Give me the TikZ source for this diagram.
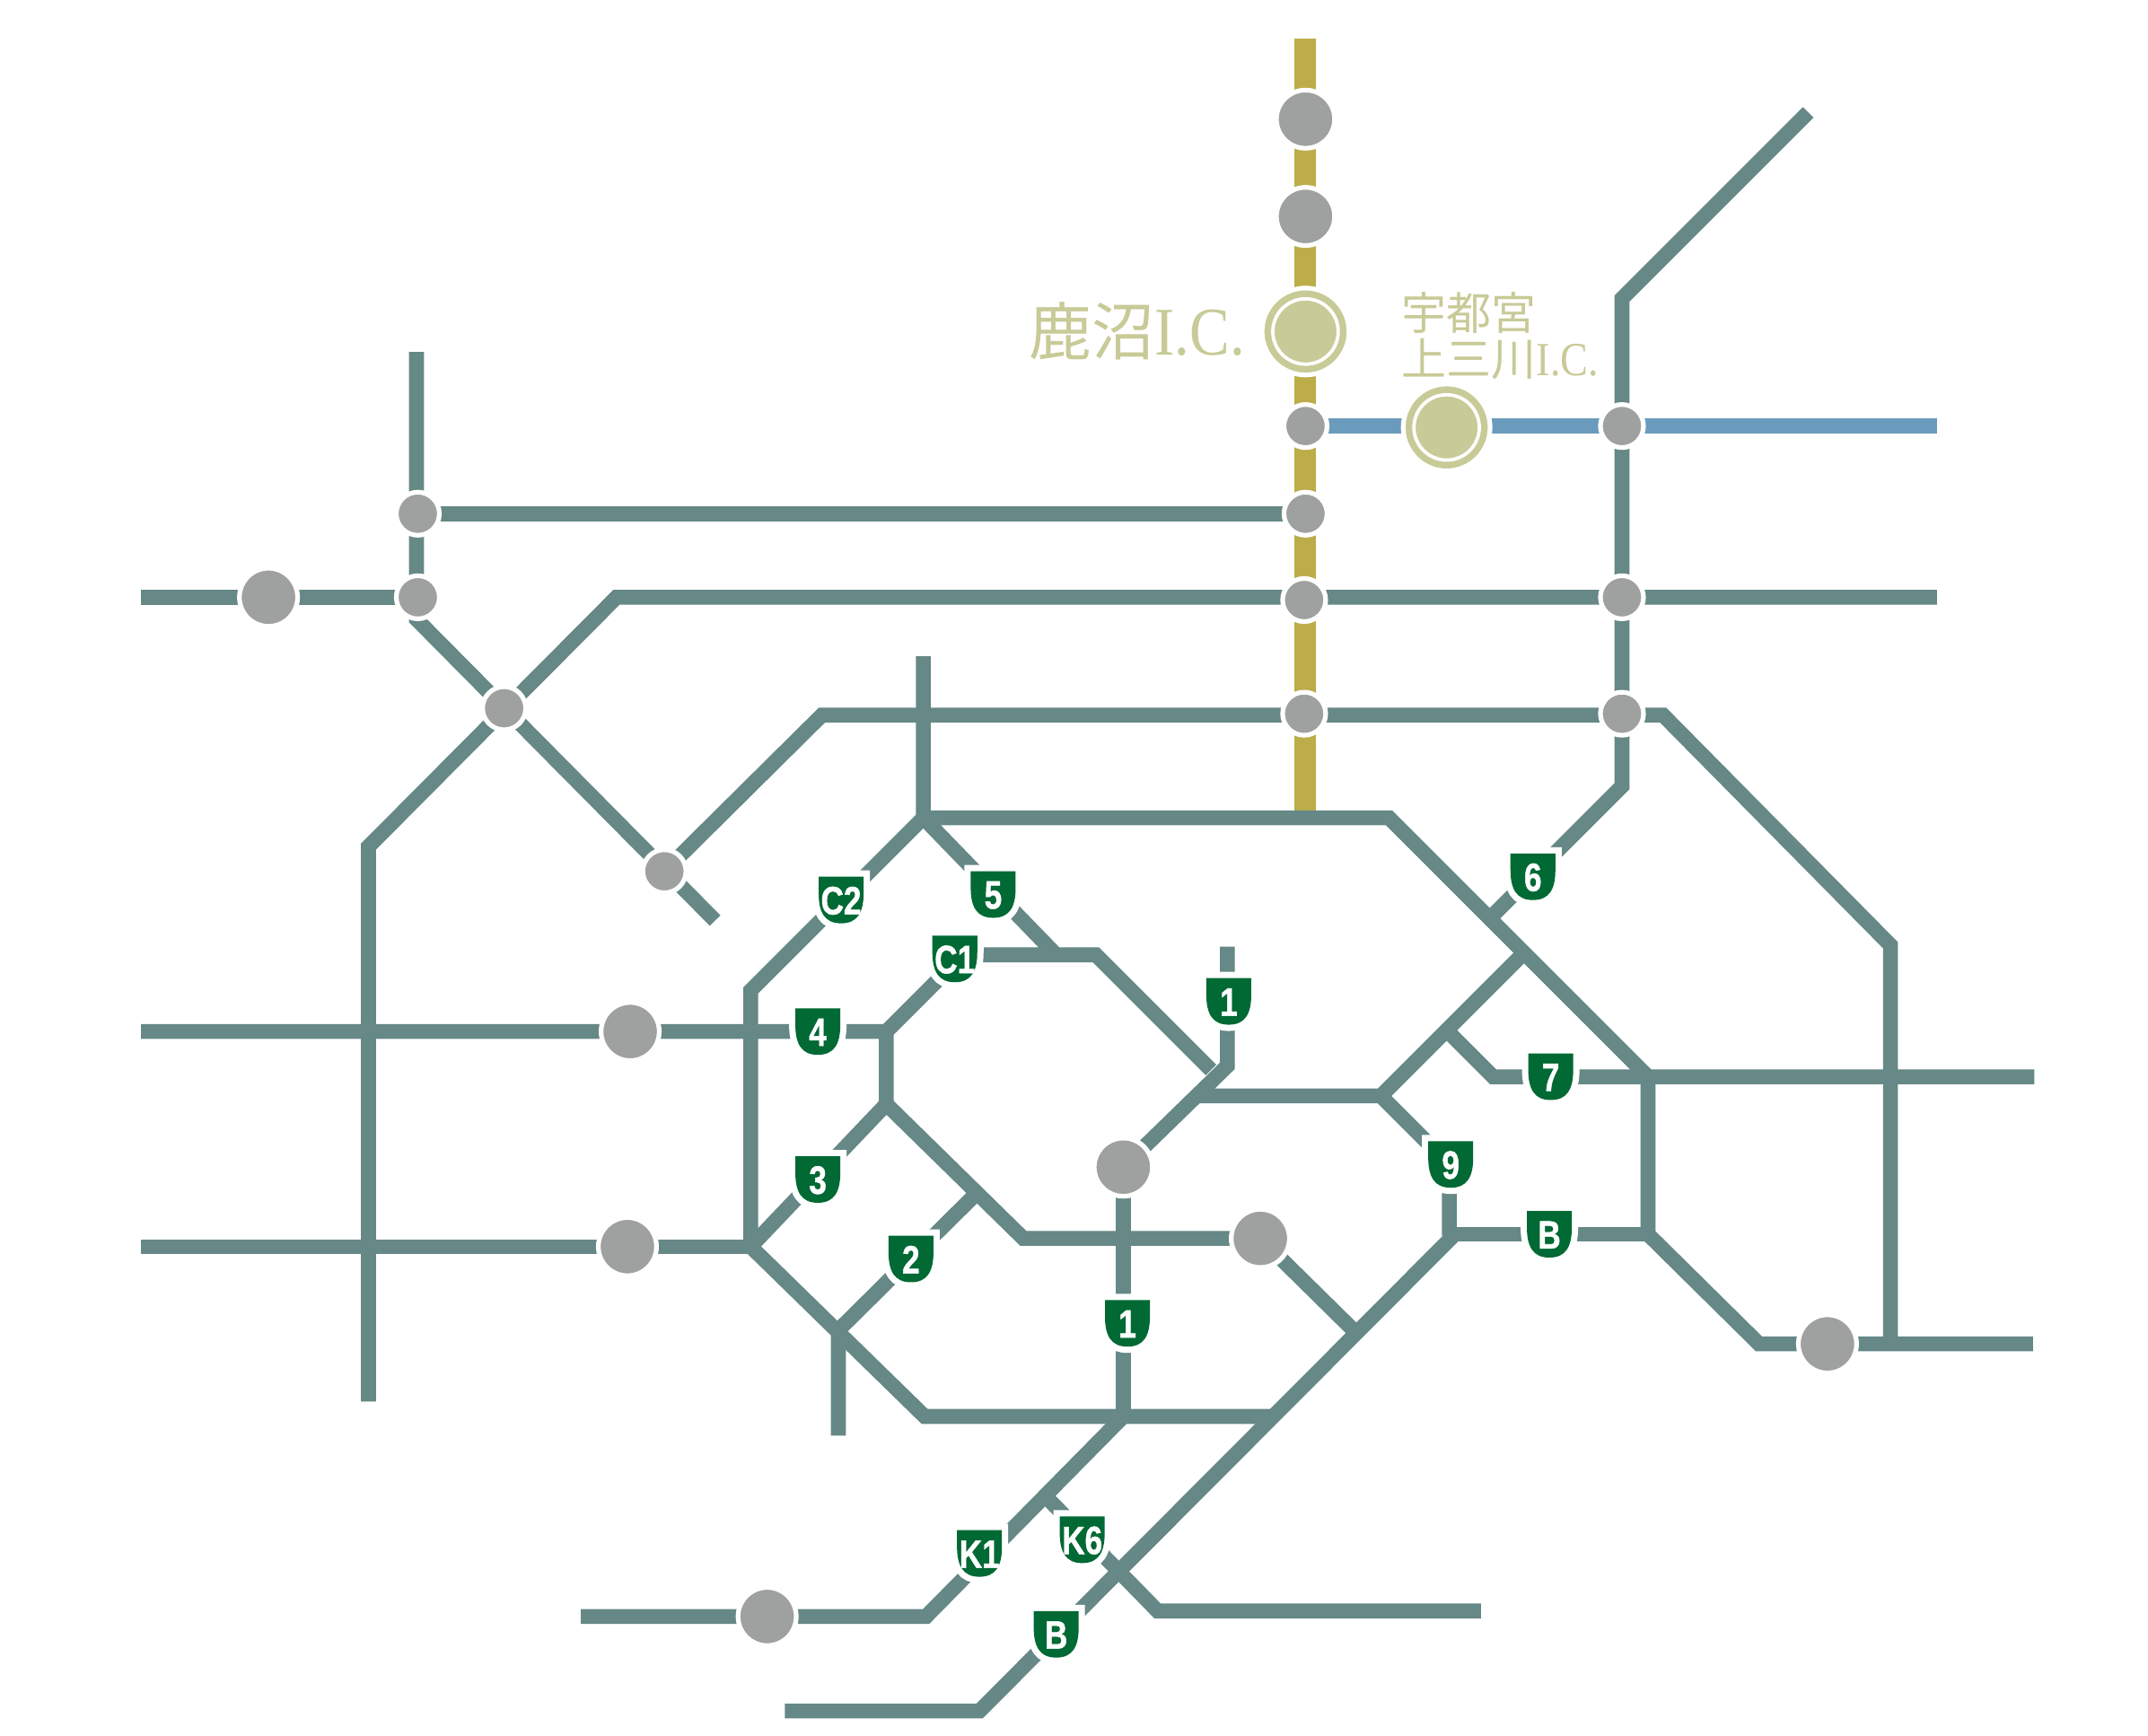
\documentclass[tikz,border=0pt]{standalone}
\usepackage{fontspec}
\setmainfont{Liberation Serif}
\newfontfamily\cjk{Noto Sans CJK JP}
\newfontfamily\shf[BoldFeatures={FakeBold=1.2}]{Liberation Sans}
\usetikzlibrary{backgrounds}
\definecolor{road}{HTML}{668886}
\definecolor{goldline}{HTML}{BCAD49}
\definecolor{blueline}{HTML}{6A9BBC}
\definecolor{stgrey}{HTML}{9FA0A0}
\definecolor{icgreen}{HTML}{C8CA97}
\definecolor{shgreen}{HTML}{006934}
\tikzset{
  roadline/.style={draw=road,line width=8.3pt,line join=miter,miter limit=10},
  goldroad/.style={draw=goldline,line width=12pt},
  blueroad/.style={draw=blueline,line width=8.3pt},
  st/.style={circle,fill=stgrey,draw=white,line width=2.6pt,inner sep=0pt,outer sep=0pt,minimum size=#1},
  stS/.style={st=24pt},
  stL/.style={st=32.4pt},
  icst/.style={circle,fill=icgreen,draw=white,line width=2.6pt,inner sep=0pt,outer sep=0pt,minimum size=48.4pt},
  iclabel/.style={text=icgreen,inner sep=0pt,anchor=base west},
  shtext/.style={text=white,inner sep=0pt,font=\shf\bfseries\fontsize{22pt}{22pt}\selectfont},
}
\newcommand{\shieldpath}{(-16.4,-17) -- (16.4,-17) -- (16.4,-5) .. controls (16.4,9) and (12,17) .. (0,17) .. controls (-12,17) and (-16.4,9) .. (-16.4,-5) -- cycle}
\newcommand{\shld}[4]{%
  \begin{scope}[shift={(#2,#3)}]
    \draw[white,fill=white,line width=7pt,line join=miter] \shieldpath;
    \fill[shgreen] \shieldpath;
    \node[shtext] (#1) at (0,0.5) {\scalebox{0.8}[1]{#4}};
  \end{scope}}
\newcommand{\icring}[1]{%
  \draw[white,line width=1.9pt] (#1.center) circle (18.2pt);}
\newcommand{\icbig}{\scalebox{0.88}[1]{\fontsize{38pt}{38pt}\selectfont I.C.}}
\newcommand{\icsmall}{\scalebox{0.87}[1]{\fontsize{26.5pt}{26.5pt}\selectfont I.C.}}
\begin{document}
\begin{tikzpicture}[x=0.763pt,y=-0.763pt]
\useasboundingbox (0,0) rectangle (1568,1266.7);
% stations
\node[stL] (g1) at (953,87) {};
\node[stL] (g2) at (953,158) {};
\node[icst] (kanuma) at (953,242) {};
\icring{kanuma}
\node[stS] (g4) at (953,311) {};
\node[icst] (kaminokawa) at (1056,312) {};
\icring{kaminokawa}
\node[stS] (e1) at (1184,311) {};
\node[stS] (w1) at (305,375) {};
\node[stS] (g5) at (953,375) {};
\node[stL] (w0) at (196,436) {};
\node[stS] (w2) at (305,436) {};
\node[stS] (g6) at (952,438) {};
\node[stS] (e2) at (1184,436) {};
\node[stS] (w3) at (368,517) {};
\node[stS] (g7) at (952,521) {};
\node[stS] (e3) at (1184,521) {};
\node[stS] (w4) at (485,636) {};
\node[stL] (r4) at (460,753) {};
\node[stL] (r3) at (458,910) {};
\node[stL] (c1) at (820,852) {};
\node[stL] (c2) at (920,904) {};
\node[stL] (se) at (1334,981) {};
\node[stL] (sw) at (560,1180) {};
% labels
\node[iclabel] (tkanuma) at (751,259) {\fontsize{35pt}{35pt}\selectfont{\cjk 鹿沼}\icbig};
\node[iclabel] (tutsu) at (1023,241) {\fontsize{25pt}{25pt}\selectfont{\cjk 宇都宮}};
\node[iclabel] (tkami) at (1023,274.5) {\fontsize{25pt}{25pt}\selectfont{\cjk 上三川}\icsmall};
% shields
\shld{sC2}{614}{657}{C2}
\shld{sFive}{725}{653}{5}
\shld{sC1}{697}{700}{C1}
\shld{sOneA}{897}{731}{1}
\shld{sFour}{597}{753}{4}
\shld{sThree}{597}{861}{3}
\shld{sTwo}{665}{919}{2}
\shld{sOneB}{823}{966}{1}
\shld{sSix}{1119}{640}{6}
\shld{sSeven}{1132}{786}{7}
\shld{sNine}{1059}{850}{9}
\shld{sBA}{1131}{901}{B}
\shld{sK1}{715}{1134}{K1}
\shld{sK6}{790}{1124}{K6}
\shld{sBB}{771}{1193}{B}
% corners and free ends
\coordinate (gtop) at (953,28);
\coordinate (gbot) at (953,597);
\coordinate (bend) at (1414,311);
\coordinate (atop) at (304,257);
\coordinate (abend) at (304,452);
\coordinate (aend) at (522,672);
\coordinate (bstart) at (103,436);
\coordinate (dbot) at (269,1023);
\coordinate (d1) at (269,618);
\coordinate (d2) at (450,436);
\coordinate (dend) at (1414,436);
\coordinate (e2a) at (600,522);
\coordinate (e2b) at (1214,522);
\coordinate (e2c) at (1380,690);
\coordinate (e2d) at (1380,981);
\coordinate (ftop) at (674,479);
\coordinate (f1) at (674,597);
\coordinate (f2) at (1014,597);
\coordinate (f3) at (1203,786);
\coordinate (f4) at (1203,901);
\coordinate (f5) at (1284,981);
\coordinate (fend) at (1484,981);
\coordinate (g0) at (1320,82);
\coordinate (g3a) at (1184,218);
\coordinate (g3b) at (1184,574);
\coordinate (g3c) at (1088,670);
\coordinate (h1) at (548,723);
\coordinate (h2) at (548,910);
\coordinate (h3) at (675,1034);
\coordinate (h4) at (930,1034);
\coordinate (i1) at (770,696);
\coordinate (c3) at (647,753);
\coordinate (c4) at (703,697);
\coordinate (c5) at (800,697);
\coordinate (c6) at (884,781);
\coordinate (west4) at (103,753);
\coordinate (c7) at (647,806);
\coordinate (k1) at (747,904);
\coordinate (l1) at (712,872);
\coordinate (l2) at (612,971);
\coordinate (l3) at (612,1048);
\coordinate (west3) at (103,910);
\coordinate (n1) at (820,1034);
\coordinate (n2) at (676,1180);
\coordinate (n3) at (424,1180);
\coordinate (o1) at (896,691);
\coordinate (o2) at (896,778);
\coordinate (m1) at (875,800);
\coordinate (m2) at (1008,800);
\coordinate (m3) at (1112,696);
\coordinate (m4) at (1058,850);
\coordinate (m5) at (1058,902);
\coordinate (s1) at (1056,752);
\coordinate (s2) at (1090,786);
\coordinate (send) at (1485,786);
\coordinate (bb1) at (1062,901);
\coordinate (bb2) at (715,1249);
\coordinate (bb3) at (573,1249);
\coordinate (q1) at (988,971);
\coordinate (r1) at (763,1092);
\coordinate (r2) at (845,1176);
\coordinate (r3e) at (1081,1176);
\begin{scope}[on background layer]
\fill[white] (0,0) rectangle (1568,1266.7);
\draw[goldroad] (gtop) -- (gbot);
\draw[blueroad] (g4.center) -- (bend);
\draw[roadline] (atop) -- (abend) -- (aend);
\draw[roadline] (bstart) -- (w2.center);
\draw[roadline] (w1.center) -- (g5.center);
\draw[roadline] (dbot) -- (d1) -- (d2) -- (dend);
\draw[roadline] (w4.center) -- (e2a) -- (e2b) -- (e2c) -- (e2d);
\draw[roadline] (ftop) -- (f1) -- (f2) -- (f3) -- (f4) -- (f5) -- (fend);
\draw[roadline] (g0) -- (g3a) -- (g3b) -- (g3c);
\draw[roadline] (f1) -- (h1) -- (h2) -- (h3) -- (h4);
\draw[roadline] (f1) -- (i1);
\draw[roadline] (west4) -- (c3) -- (c7) -- (h2);
\draw[roadline] (c3) -- (c4) -- (c5) -- (c6);
\draw[roadline] (c7) -- (k1) -- (c2.center) -- (q1);
\draw[roadline] (l1) -- (l2) -- (l3);
\draw[roadline] (west3) -- (h2);
\draw[roadline] (c1.center) -- (n1) -- (n2) -- (n3);
\draw[roadline] (o1) -- (o2) -- (c1.center);
\draw[roadline] (m1) -- (m2) -- (m3);
\draw[roadline] (m2) -- (m4) -- (m5);
\draw[roadline] (s1) -- (s2) -- (f3) -- (send);
\draw[roadline] (bb1) -- (f4);
\draw[roadline] (bb1) -- (bb2) -- (bb3);
\draw[roadline] (r1) -- (r2) -- (r3e);
\end{scope}
\end{tikzpicture}
\end{document}
